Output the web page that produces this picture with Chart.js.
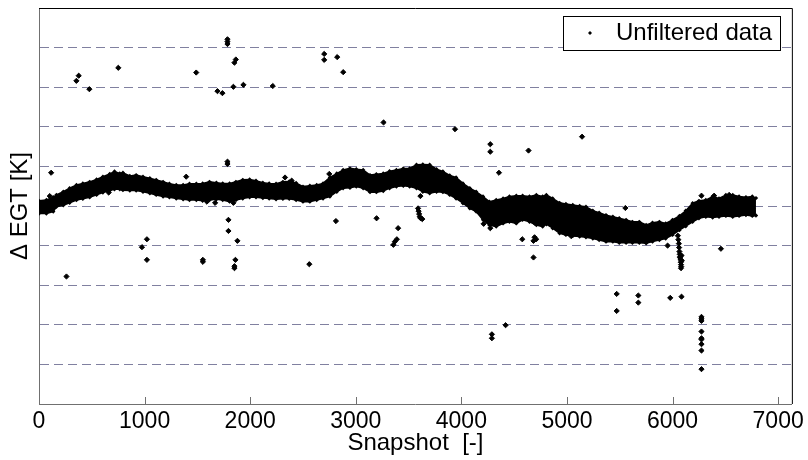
<!DOCTYPE html>
<html>
<head>
<meta charset="utf-8">
<script src="https://cdn.jsdelivr.net/npm/chart.js@4.4.1/dist/chart.umd.min.js"></script>
<style>
  html, body { margin: 0; padding: 0; background: #fff; }
</style>
</head>
<body>
<canvas id="egt" width="808" height="460"></canvas>
<script>
// ====== Data ======
const xTicks = [0, 1000, 2000, 3000, 4000, 5000, 6000, 7000];

// dense band of snapshots: outer edges of the cloud
const bandX = [0, 70, 135, 165, 230, 290, 355, 415, 480, 545, 605, 670, 715, 765, 795, 860, 920, 985,
  1050, 1110, 1175, 1235, 1300, 1365, 1425, 1490, 1550, 1615, 1680, 1740, 1805, 1865, 1930, 1995,
  2055, 2120, 2180, 2245, 2310, 2370, 2435, 2500, 2565, 2630, 2690, 2755, 2820, 2880, 2945, 3005,
  3070, 3135, 3195, 3260, 3320, 3385, 3450, 3510, 3575, 3635, 3700, 3765, 3825, 3890, 3950, 4015,
  4080, 4140, 4205, 4265, 4330, 4395, 4455, 4520, 4580, 4645, 4710, 4770, 4805, 4865, 4930, 4990,
  5055, 5120, 5180, 5245, 5305, 5370, 5435, 5495, 5560, 5620, 5685, 5750, 5810, 5875, 5935, 6000,
  6065, 6125, 6190, 6250, 6315, 6380, 6440, 6505, 6570, 6630, 6695, 6755, 6790];
const bandTop = [1.3, 1.5, 2.2, 2.8, 3.6, 4.5, 5.3, 5.7, 6.1, 6.7, 7.4, 8.1, 8.7, 8.2, 8.4, 7.6, 7.8, 7.4,
  7.0, 6.6, 6.1, 5.6, 5.3, 5.3, 5.6, 5.6, 5.7, 6.1, 5.9, 5.7, 5.7, 6.1, 6.6, 6.7,
  6.4, 5.9, 5.7, 5.6, 6.1, 6.2, 5.8, 4.9, 5.1, 5.3, 5.7, 7.2, 8.2, 9.1, 9.5, 9.3,
  9.1, 7.8, 8.0, 8.2, 8.8, 9.1, 9.5, 9.5, 10.4, 10.5, 10.4, 9.3, 8.7, 7.7, 7.2, 5.7,
  4.5, 3.6, 2.4, 1.1, 1.5, 1.9, 2.4, 2.6, 2.6, 2.4, 2.8, 2.4, 2.8, 1.9, 0.8, 0.5,
  0.25, 0.0, -0.2, -1.2, -1.7, -2.3, -2.7, -3.1, -3.5, -4.0, -4.0, -4.8, -4.2, -4.0, -4.4, -3.5,
  -2.5, -1.2, 0.7, 1.3, 1.5, 2.4, 1.9, 2.8, 2.8, 2.4, 2.2, 2.4, 2.0];
const bandBot = [-1.9, -1.9, -1.4, -0.2, 0.2, 0.8, 1.5, 1.8, 2.2, 2.8, 3.4, 3.9, 4.2, 4.2, 4.0, 3.9, 3.9, 3.6,
  3.2, 2.8, 2.4, 2.2, 1.9, 1.7, 1.5, 1.5, 1.3, 1.5, 1.7, 1.5, 1.1, 1.5, 1.9, 2.2,
  2.2, 2.0, 1.9, 1.7, 1.8, 1.8, 1.5, 1.1, 1.1, 1.5, 1.9, 2.4, 3.6, 4.5, 4.6, 4.9,
  4.5, 3.5, 3.5, 3.8, 4.5, 4.9, 5.1, 4.9, 4.5, 3.6, 3.2, 3.6, 3.5, 2.8, 1.9, 0.7,
  -0.6, -1.4, -3.5, -4.8, -5.2, -4.4, -4.0, -4.4, -3.5, -4.0, -4.8, -5.2, -4.6, -5.6, -6.9, -7.3,
  -7.6, -7.7, -7.9, -8.2, -8.6, -9.0, -9.0, -9.3, -9.3, -9.3, -9.3, -9.4, -9.0, -8.6, -8.2, -7.3,
  -6.1, -5.1, -4.0, -3.1, -2.7, -2.9, -2.7, -2.5, -2.7, -2.5, -2.3, -2.5, -2.4];

// single snapshots away from the band
const pointX = [354, 376, 477, 751, 1489, 1690, 1737, 1785, 1785, 1785, 1851, 1864, 1841, 1936, 2214, 1785, 1785,
  2701, 2701, 2824, 2881, 3263, 3940, 4274, 4274, 4636, 5143,
  115, 102, 660, 1394, 1590, 1668, 1841, 1794, 1794, 1879, 975, 1022, 1022, 1552, 1552, 1860, 1851, 1851, 260, 2330, 2393,
  4356, 2749, 2812, 3197, 3401, 3389, 3370, 3356, 2560, 3612,
  3590, 3595, 3600, 3605, 3615, 3630,
  4085, 4211, 4274, 4577, 4693, 4709, 4683, 4683, 4693, 5040,
  5553, 5953, 6458, 5471, 5676, 5676, 5978, 6085, 5471,
  4289, 4289, 4419,
  6274, 6274, 6274, 6274, 6274, 6274, 6274, 6274, 6274,
  6274, 6394, 6536,
  6050, 6055, 6060, 6062, 6065, 6068, 6072, 6075, 6078, 6080, 6082, 6080, 6070, 6085, 6088];
const pointY = [31.6, 32.9, 29.5, 34.9, 33.7, 29.0, 28.5, 42.1, 41.5, 40.9, 36.2, 37.0, 30.1, 30.6, 30.3, 11.2, 10.6,
  38.4, 36.9, 37.6, 33.8, 21.1, 19.4, 15.6, 13.7, 14.0, 17.5,
  8.4, 2.5, 3.4, 7.4, 1.1, 0.8, 0.8, -3.5, -6.3, -8.8, -10.4, -8.4, -13.6, -13.6, -14.1, -13.6, -15.2, -15.7, -17.8, 7.2, 6.4,
  8.4, 8.1, -3.8, -3.1, -5.6, -8.4, -9.0, -9.8, -14.7, 2.5,
  -0.6, -1.3, -2.0, -2.7, -3.1, -3.3,
  4.0, -4.5, -5.6, -8.4, -7.9, -8.4, -8.8, -13.0, -4.2, -7.6,
  -0.5, -10.0, -10.8, -22.2, -22.6, -24.4, -23.2, -22.9, -26.5,
  -32.4, -33.4, -30.1,
  -28.0, -28.5, -29.0, -31.7, -33.4, -33.7, -34.9, -36.5, -41.2,
  2.6, 2.6, 2.8,
  -7.5, -8.5, -9.5, -10.5, -11.5, -12.2, -12.8, -13.5, -14.2, -14.8, -15.3, -15.7, -13.0, -12.5, -13.8];

const FONT = "'Liberation Sans', Arial, sans-serif";

// ====== Marco, ticks interiores y leyenda ======
const framePlugin = {
  id: 'frame',
  afterDraw(chart) {
    const { ctx, chartArea: a, scales: { x } } = chart;
    ctx.save();
    ctx.strokeStyle = '#707070';
    ctx.lineWidth = 1;
    xTicks.slice(1).forEach(v => {
      const px = Math.round(x.getPixelForValue(v)) + 0.5;
      ctx.beginPath();
      ctx.moveTo(px, a.bottom);
      ctx.lineTo(px, a.bottom - 7);
      ctx.stroke();
    });
    ctx.strokeStyle = '#000';
    ctx.beginPath();
    ctx.moveTo(a.left, a.top + 0.5);
    ctx.lineTo(a.right + 0.5, a.top + 0.5);
    ctx.lineTo(a.right + 0.5, a.bottom);
    ctx.stroke();

    // legend box
    ctx.fillStyle = '#fff';
    ctx.fillRect(563, 16, 218, 35);
    ctx.strokeStyle = '#000';
    ctx.strokeRect(563.5, 16.5, 217, 34);
    ctx.fillStyle = '#000';
    ctx.beginPath();
    ctx.moveTo(590, 31); ctx.lineTo(592, 33); ctx.lineTo(590, 35); ctx.lineTo(588, 33);
    ctx.closePath();
    ctx.fill();
    ctx.font = '24px ' + FONT;
    ctx.textBaseline = 'middle';
    ctx.textAlign = 'left';
    ctx.fillText('Unfiltered data', 616, 33);
    ctx.restore();
  }
};

const edgeStyle = {
  type: 'line',
  borderColor: '#000',
  borderWidth: 1.5,
  pointStyle: 'rectRot',
  pointRadius: 2.2,
  pointBackgroundColor: '#000',
  pointBorderWidth: 0,
  tension: 0
};

new Chart(document.getElementById('egt'), {
  type: 'scatter',
  data: {
    datasets: [
      {
        ...edgeStyle,
        data: bandX.map((x, i) => ({ x, y: bandTop[i] })),
        fill: false
      },
      {
        ...edgeStyle,
        data: bandX.map((x, i) => ({ x, y: bandBot[i] })),
        backgroundColor: '#000',
        fill: '-1'
      },
      {
        label: 'Unfiltered data',
        data: pointX.map((x, i) => ({ x, y: pointY[i] })),
        pointStyle: 'rectRot',
        pointRadius: 2.6,
        backgroundColor: '#000',
        borderColor: '#000',
        borderWidth: 1
      }
    ]
  },
  options: {
    responsive: false,
    animation: false,
    devicePixelRatio: 1,
    layout: { padding: { top: 8, right: 15, left: 0, bottom: 0 } },
    plugins: {
      legend: { display: false },
      tooltip: { enabled: false }
    },
    scales: {
      x: {
        type: 'linear',
        min: 0,
        max: 7130,
        afterBuildTicks: (s) => { s.ticks = xTicks.map(v => ({ value: v })); },
        afterFit: (s) => { s.height = 56; },
        ticks: {
          color: '#000',
          padding: 4,
          maxRotation: 0,
          autoSkip: false,
          callback: (v) => String(v),
          font: { family: FONT, size: 23 }
        },
        grid: { display: false, drawTicks: false },
        border: { display: true, color: '#707070', width: 1 },
        title: {
          display: true,
          text: 'Snapshot  [-]',
          color: '#000',
          font: { family: FONT, size: 24 },
          padding: { top: 0, bottom: 2 }
        }
      },
      y: {
        min: -50,
        max: 50,
        afterFit: (s) => { s.width = 39; },
        ticks: { stepSize: 10, display: false },
        grid: {
          drawTicks: false,
          color: (c) => (c.tick && Math.abs(c.tick.value) < 50 ? '#8080a0' : 'rgba(0,0,0,0)'),
          lineWidth: 1
        },
        border: { display: true, color: '#707070', width: 1, dash: [9, 5] },
        title: {
          display: true,
          text: 'Δ EGT [K]',
          color: '#000',
          font: { family: FONT, size: 24 },
          padding: { top: 6, bottom: 0 }
        }
      }
    }
  },
  plugins: [framePlugin]
});
</script>
</body>
</html>
